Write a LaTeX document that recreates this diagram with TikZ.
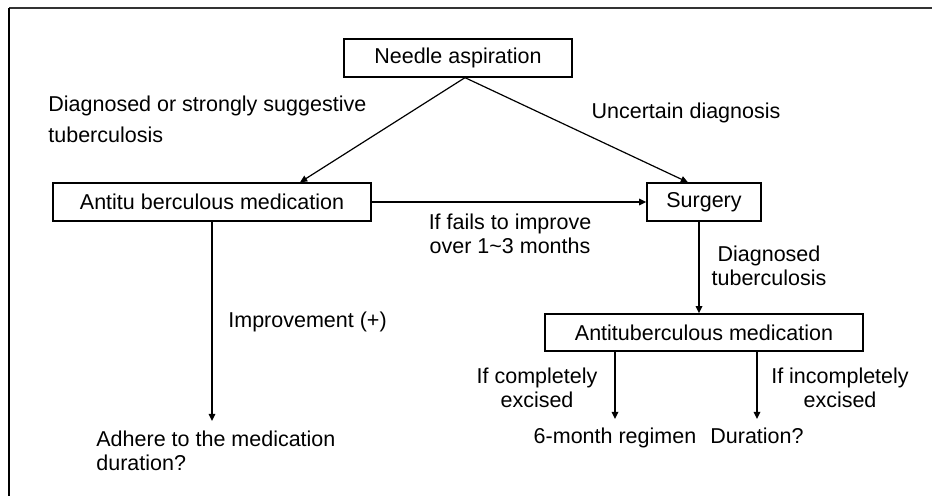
\documentclass[tikz,border=0pt]{standalone}
\usepackage{fontspec}
\setmainfont{Liberation Sans}
\usetikzlibrary{arrows.meta,calc}
\tikzset{
  box/.style={draw=black,line width=0.65pt,inner sep=0pt,font=\fontsize{10.75}{12}\selectfont},
  lbl/.style={inner sep=0pt,font=\fontsize{10.75}{12}\selectfont},
  arr/.style={line width=0.9pt,-{Triangle[length=3.6pt,width=3.2pt]}},
  darr/.style={line width=0.6pt,-{Triangle[length=3.6pt,width=3.2pt]}}
}
\begin{document}
\begin{tikzpicture}[x=0.5pt,y=-0.5pt]
\useasboundingbox (0,0) rectangle (932,496);
% frame
\draw[line width=0.75pt,black!80] (932,8) -- (9,8);
\draw[line width=0.75pt] (9,8) -- (9,496);
% boxes
\node[box,minimum width=114pt,minimum height=19pt] (needle) at (458,58) {Needle aspiration};
\node[box,minimum width=159pt,minimum height=19pt] (med1) at (212,202) {Antitu berculous medication};
\node[box,minimum width=57pt,minimum height=19pt] (surg) at (704,202) {Surgery};
\node[box,minimum width=159pt,minimum height=18.5pt] (med2) at (704,332.5) {Antituberculous medication};
% labels
\node[lbl,align=left,anchor=west] (lsug) at (48,119) {Diagnosed or strongly suggestive\\[3.5pt]tuberculosis};
\node[lbl] (lunc) at (686,113) {Uncertain diagnosis};
\node[lbl,align=center] (lfail) at (510,234) {If fails to improve\\over 1\textasciitilde 3 months};
\node[lbl,anchor=west] (limp) at (228,322) {Improvement (+)};
\node[lbl,align=center] (ldx) at (769,266) {Diagnosed\\tuberculosis};
\node[lbl,align=center] (lcomp) at (537,388) {If completely\\excised};
\node[lbl,align=center] (lincomp) at (840,388) {If incompletely\\excised};
\node[lbl,align=left,anchor=north west] (adhere) at (96,431) {Adhere to the medication\\duration?};
\node[lbl,anchor=base] (six) at (615,444) {6-month regimen};
\node[lbl,anchor=base] (dur) at (757,444) {Duration?};
% connectors
\coordinate (nsrc) at ($(needle.south)+(7,0)$);
\draw[darr] (nsrc) -- ($(med1.north)+(88,0)$);
\draw[darr] (nsrc) -- ($(surg.north)+(-16,0)$);
\draw[arr] (med1.east) -- (surg.west);
\draw[arr,shorten >=5pt] (med1.south) -- (med1.south |- adhere.north);
\draw[arr] ($(surg.south)+(-5,0)$) -- ($(med2.north)+(-5,0)$);
\draw[arr,shorten >=4.5pt] (six.north |- med2.south) -- (six.north);
\draw[arr,shorten >=4.5pt] (dur.north |- med2.south) -- (dur.north);
\end{tikzpicture}
\end{document}
